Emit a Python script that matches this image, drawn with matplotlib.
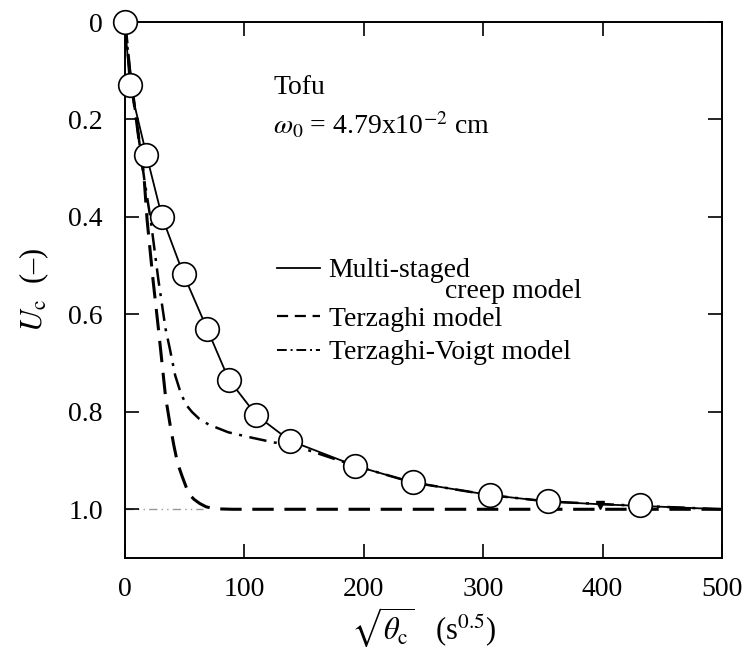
import matplotlib
matplotlib.use("Agg")
import matplotlib.pyplot as plt
from matplotlib.lines import Line2D

plt.rcParams['font.family'] = ['Liberation Serif', 'DejaVu Serif']
plt.rcParams['mathtext.fontset'] = 'stix'

# Experimental points (circles)
exp_x = [0, 4, 18, 31, 49, 69, 87, 110, 138, 193, 241, 306, 354, 431]
exp_u = [0.0, 0.13, 0.273, 0.40, 0.518, 0.631, 0.734, 0.807, 0.859, 0.911, 0.945, 0.971, 0.984, 0.992]

# Multi-staged creep model (solid)
ms_x = [0, 4, 18, 31, 49, 69, 87, 110, 138, 193, 241, 306, 354, 400, 431, 500]
ms_u = [0.0, 0.13, 0.273, 0.40, 0.518, 0.631, 0.734, 0.807, 0.859, 0.911, 0.945, 0.971, 0.984, 0.99, 0.993, 1.0]

# Terzaghi model (dashed)
tz_x = [0, 4, 16, 18.5, 23.5, 28, 31, 34, 38, 41, 44, 47.5, 51, 54, 58, 62.5, 68, 75, 90, 500]
tz_u = [0.0, 0.10, 0.32, 0.406, 0.53, 0.63, 0.70, 0.77, 0.83, 0.87, 0.905, 0.93, 0.953, 0.97, 0.98, 0.988, 0.995, 0.999, 1.0, 1.0]

# Terzaghi-Voigt model (dash-dot)
tv_x = [0, 4, 16, 21.5, 28, 34, 37.5, 42, 46.5, 51, 56, 62, 70, 86.5, 106, 125, 139, 193, 241, 306, 354, 431, 500]
tv_u = [0.0, 0.10, 0.32, 0.406, 0.53, 0.63, 0.67, 0.725, 0.76, 0.785, 0.80, 0.814, 0.826, 0.842, 0.853, 0.863, 0.867, 0.911, 0.945, 0.971, 0.984, 0.993, 1.0]

# small marker
tri_x = [398]
tri_u = [0.992]

xticks = [0, 100, 200, 300, 400, 500]
yticks = [0, 0.2, 0.4, 0.6, 0.8, 1.0]
yticklabels = ['0', '0.2', '0.4', '0.6', '0.8', '1.0']

fig = plt.figure(figsize=(7.46, 6.55), dpi=100)
fig.subplots_adjust(left=125/746, right=722/746, top=1-22/655, bottom=1-558/655)
ax = fig.add_subplot(111)

ax.axhline(1.0, xmin=0, xmax=0.13, color='#999999', lw=1.0, ls=(0, (6, 3, 1, 3, 1, 3)), zorder=1)

ax.plot(tz_x, tz_u, color='black', lw=2.2, ls=(0, (7, 3.5)), zorder=2)
ax.plot(tv_x, tv_u, color='black', lw=1.8, ls=(0, (7, 3, 1.2, 3)), zorder=2)
ax.plot(ms_x, ms_u, color='black', lw=1.3, ls='-', zorder=3)
ax.plot(exp_x, exp_u, ls='none', marker='o', ms=17, mfc='white', mec='black', mew=1.2,
        zorder=5, clip_on=False)
ax.plot(tri_x, tri_u, ls='none', marker='v', ms=6, color='black', zorder=4)

ax.set_xlim(0, 500)
ax.set_ylim(1.1, 0)
ax.set_xticks(xticks)
ax.set_yticks(yticks)
ax.set_yticklabels(yticklabels)
ax.tick_params(direction='in', length=10, width=1.2, labelsize=20, top=True, right=True)
ax.tick_params(axis='x', pad=14)
ax.tick_params(axis='y', pad=16)
for s in ax.spines.values():
    s.set_linewidth(1.4)

ax.set_xlabel(r'$\sqrt{\theta_{\mathrm{c}}}$   (s$^{0.5}$)', fontsize=22, labelpad=2)
ax.set_ylabel(r'$U_{\mathrm{c}}$  (–)', fontsize=22, labelpad=12)

ax.text(0.248, 0.877, 'Tofu', transform=ax.transAxes, fontsize=20, va='center', ha='left')
ax.text(0.248, 0.808, r'$\omega_0$ = 4.79x10$^{-2}$ cm', transform=ax.transAxes,
        fontsize=20, va='center', ha='left')

legkw = dict(loc='upper left', frameon=False, fontsize=20, handlelength=1.55,
             handletextpad=0.3, borderpad=0, borderaxespad=0, labelspacing=0.3)
h1 = [Line2D([], [], color='black', lw=1.3, ls='-')]
leg1 = ax.legend(h1, ['Multi-staged'], bbox_to_anchor=(0.255, 0.560), **legkw)
ax.add_artist(leg1)
h2 = [Line2D([], [], color='black', lw=1.6, ls=(0, (5, 3))),
      Line2D([], [], color='black', lw=1.4, ls=(0, (5, 2, 1, 2)))]
ax.legend(h2, ['Terzaghi model', 'Terzaghi-Voigt model'],
          bbox_to_anchor=(0.255, 0.470), **legkw)
ax.text(0.536, 0.497, 'creep model', transform=ax.transAxes, fontsize=20,
        va='center', ha='left')

fig.savefig('out.png', dpi=100)
